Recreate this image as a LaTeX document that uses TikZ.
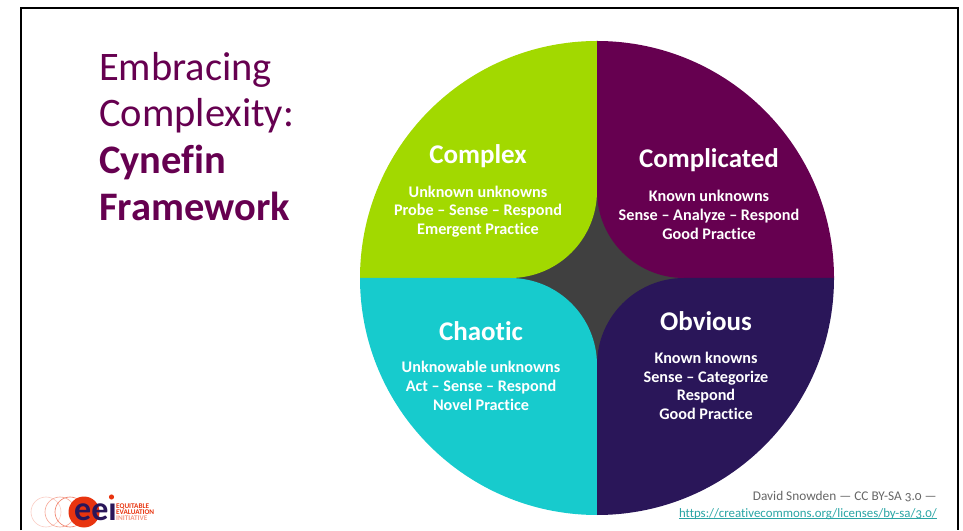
\documentclass[tikz,border=0pt]{standalone}
\usepackage{fontspec}
\setmainfont{Carlito}[Ligatures=NoCommon]
\usetikzlibrary{positioning,calc}
\definecolor{plum}{HTML}{660050}
\definecolor{limeq}{HTML}{A2D900}
\definecolor{tealq}{HTML}{17CBCD}
\definecolor{navyq}{HTML}{2A1659}
\definecolor{coreq}{HTML}{404040}
\definecolor{logored}{HTML}{E8340F}
\definecolor{linkq}{HTML}{2AA5A5}
\tikzset{
  headline/.style={anchor=base west,inner sep=0pt,text=plum,font=\fontsize{40.5}{47}\selectfont},
  quadtitle/.style={inner sep=0pt,text=white,font=\fontsize{27}{30}\selectfont\bfseries},
  quadbody/.style={inner sep=0pt,text=white,align=center,font=\fontsize{16.2}{18.7}\selectfont\bfseries},
  logotext/.style={anchor=base west,inner sep=0pt,font=\fontsize{7.2}{6}\selectfont\bfseries},
}
\begin{document}
\begin{tikzpicture}[x=1pt,y=1pt]
\useasboundingbox (0,0) rectangle (963,530);

\draw[line width=2.5pt] (21,0) -- (21,522) -- (958,522) -- (958,0);

\fill[coreq] (510,165) rectangle (684,339);
\fill[limeq] (597,489) arc[start angle=90,end angle=180,radius=237] -- (510,252) arc[start angle=270,end angle=360,radius=87] -- cycle;
\fill[plum] (597,489) arc[start angle=90,end angle=0,radius=237] -- (684,252) arc[start angle=270,end angle=180,radius=87] -- cycle;
\fill[tealq] (360,252) arc[start angle=180,end angle=270,radius=237] -- (597,165) arc[start angle=0,end angle=90,radius=87] -- cycle;
\fill[navyq] (597,15) arc[start angle=270,end angle=360,radius=237] -- (684,252) arc[start angle=90,end angle=180,radius=87] -- cycle;

\node (h0) at (99,449.5) [headline] {Embracing};
\node (h1) at (99,403.5) [headline] {Complexity:};
\node (h2) at (99,356.5) [headline] {\textbf{Cynefin}};
\node (h3) at (99,309.5) [headline] {\textbf{Framework}};

\node (t0) at (478,374) [quadtitle] {Complex};
\node (t1) at (709,370) [quadtitle] {Complicated};
\node (t2) at (481,199) [quadtitle] {Chaotic};
\node (t3) at (706,209) [quadtitle] {Obvious};

\node (b0) at (478,318.5) [quadbody] {Unknown unknowns\\Probe -- Sense -- Respond\\Emergent Practice};
\node (b1) at (709,315) [quadbody] {Known unknowns\\Sense -- Analyze -- Respond\\Good Practice};
\node (b2) at (481,144) [quadbody] {Unknowable unknowns\\Act -- Sense -- Respond\\Novel Practice};
\node (b3) at (706,144) [quadbody] {Known knowns\\Sense -- Categorize\\Respond\\Good Practice};

\node (cr) at (937,30) [anchor=base east,inner sep=0pt,text=black!60,font=\fontsize{13.3}{15}\selectfont\addfontfeature{Numbers=OldStyle}] {David Snowden --- CC BY-SA 3.0 ---};
\node (url) at (937,13) [anchor=base east,inner sep=0pt,text=linkq,font=\fontsize{12.85}{15}\selectfont\addfontfeature{Numbers=OldStyle}] {https://creativecommons.org/licenses/by-sa/3.0/};
\draw[linkq,line width=.6pt] ($(url.base west)+(0,-1.5)$) -- ($(url.base east)+(0,-1.5)$);

\foreach \x/\o in {46/25,60/45,70/65} {
\draw[logored!\o!white,line width=.6pt] (\x,18) circle (15);
};
\fill[logored] (84,18) circle (15.5);
\node (eei) at (95.5,10) [anchor=base,inner sep=0pt,text=navyq,font=\fontsize{34}{34}\selectfont\bfseries] {ee\i};
\fill[logored] (111.5,33) circle (2.6);
\node (l0) at (116,22) [logotext,text=logored] {EQUITABLE};
\node (l1) at (116,16) [logotext,text=logored] {EVALUATION};
\node (l2) at (116,10) [logotext,text=logored!50!white] {INITIATIVE};
\end{tikzpicture}
\end{document}
